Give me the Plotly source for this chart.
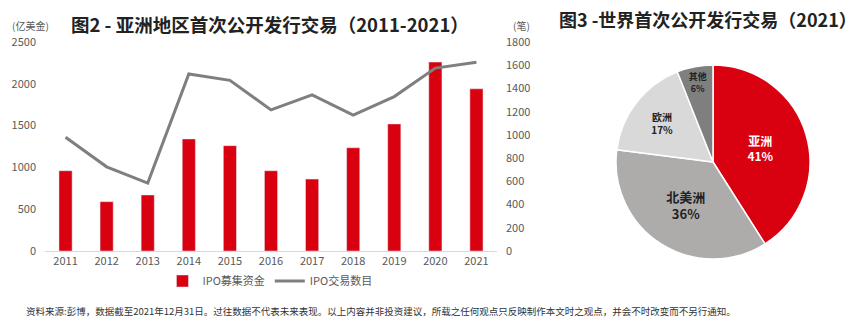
import plotly.graph_objects as go

years = ["2011","2012","2013","2014","2015","2016","2017","2018","2019","2020","2021"]
ipo_amount = [960, 590, 670, 1340, 1260, 960, 860, 1235, 1520, 2260, 1940]
ipo_count = [980, 725, 585, 1525, 1470, 1215, 1345, 1170, 1330, 1575, 1625]

regions = ["亚洲", "北美洲", "欧洲", "其他"]
shares = [41, 36, 17, 6]
pie_colors = ["#D9000F", "#AEABAB", "#D9D9D9", "#7F7F7F"]

FONT = "Noto Sans CJK SC"
W, H = 857, 331

fig = go.Figure()
fig.add_trace(go.Bar(x=years, y=ipo_amount, name="IPO募集资金", marker_color="#D9000F",
                     width=0.32, yaxis="y"))
fig.add_trace(go.Scatter(x=years, y=ipo_count, name="IPO交易数目", mode="lines",
                         line=dict(color="#7F7F7F", width=3), yaxis="y2"))
fig.add_trace(go.Pie(labels=regions, values=shares, sort=False, direction="clockwise",
                     rotation=0, marker=dict(colors=pie_colors, line=dict(color="white", width=1.5)),
                     texttemplate="<b>%{label}<br>%{percent:.0%}</b>",
                     textposition="inside",
                     insidetextorientation="horizontal",
                     textfont=dict(family=FONT, size=[12, 13, 10, 10],
                                   color=["white", "#222", "#222", "#222"]),
                     domain=dict(x=[616/W, 810/W], y=[72/H, 266/H]), showlegend=False,
                     hoverinfo="label+percent"))

fig.update_layout(
    width=W, height=H, margin=dict(l=0, r=0, t=0, b=0, autoexpand=False),
    paper_bgcolor="white", plot_bgcolor="white",
    font=dict(family=FONT, color="#595959", size=11),
    xaxis=dict(domain=[45/W, 497/W], showgrid=False, showline=True, linecolor="#D9D9D9",
               linewidth=1, ticks="", tickfont=dict(size=11, color="#595959"), fixedrange=True),
    yaxis=dict(range=[0, 2500], dtick=500, showgrid=False, zeroline=False, showline=False,
               domain=[80/H, 289/H], tickfont=dict(size=11, color="#595959"), ticklabelstandoff=8),
    yaxis2=dict(range=[0, 1800], dtick=200, overlaying="y", side="right", showgrid=False,
                zeroline=False, showline=False, tickfont=dict(size=11, color="#595959"),
                ticklabelstandoff=8),
    legend=dict(orientation="h", x=0.315, xanchor="center", y=(331-281)/H, yanchor="middle",
                font=dict(size=11, color="#595959"), itemwidth=30, traceorder="normal"),
)

fig.add_annotation(text="<b>图2 - 亚洲地区首次公开发行交易（2011-2021）</b>", x=270/W, y=1-24/H,
                   xref="paper", yref="paper", showarrow=False, xanchor="center", yanchor="middle",
                   font=dict(size=18.5, color="#222", family=FONT))
fig.add_annotation(text="(亿美金)", x=10/W, y=1-25/H, xref="paper", yref="paper", showarrow=False,
                   xanchor="left", yanchor="middle", font=dict(size=10, color="#595959"))
fig.add_annotation(text="(笔)", x=511/W, y=1-25/H, xref="paper", yref="paper", showarrow=False,
                   xanchor="left", yanchor="middle", font=dict(size=10, color="#595959"))
fig.add_annotation(text="<b>图3 -世界首次公开发行交易（2021）</b>", x=708/W, y=1-19/H,
                   xref="paper", yref="paper", showarrow=False, xanchor="center", yanchor="middle",
                   font=dict(size=18, color="#222", family=FONT))
fig.add_annotation(text="资料来源:彭博，数据截至2021年12月31日。过往数据不代表未来表现。以上内容并非投资建议，所载之任何观点只反映制作本文时之观点，并会不时改变而不另行通知。",
                   x=24/W, y=1-311/H, xref="paper", yref="paper", showarrow=False,
                   xanchor="left", yanchor="middle", font=dict(size=9.5, color="#333"))

fig.write_html("out.html")
